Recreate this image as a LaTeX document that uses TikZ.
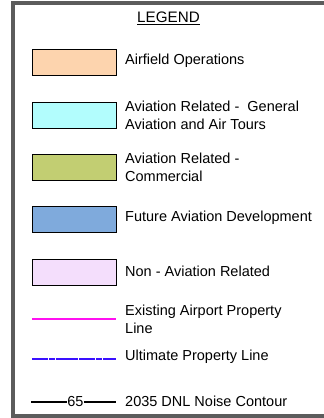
\documentclass[tikz,border=0pt]{standalone}
\usepackage{fontspec}
\setmainfont{Liberation Sans}
\definecolor{framegray}{HTML}{5C5C5C}
\definecolor{peach}{HTML}{FDD4AE}
\definecolor{aqua}{HTML}{B2FDFD}
\definecolor{olive}{HTML}{C2CE72}
\definecolor{skyblue}{HTML}{7FAADC}
\definecolor{lavender}{HTML}{F4DEFC}
\definecolor{propmagenta}{HTML}{FF10F0}
\definecolor{propblue}{HTML}{3A10FF}
\begin{document}
\begin{tikzpicture}[x=1pt,y=-1pt,
  swatch/.style={draw=black,line width=0.8pt,minimum width=84pt,minimum height=26pt,inner sep=0pt},
  label/.style={anchor=west,align=left,inner sep=0pt,font=\fontsize{14.5}{18}\selectfont},
  legline/.style={line width=2pt}]
\useasboundingbox (0,0) rectangle (324,418);
% frame
\draw[framegray,line width=4pt] (330,3) -- (13,3) -- (13,416) -- (330,416);
% title
\node[inner sep=0pt,font=\fontsize{15.2}{17}\selectfont] (title) at (168.5,18) {\underline{LEGEND}};
% colour swatches
\node[swatch,fill=peach]    (s1) at (74,62)  {};
\node[swatch,fill=aqua]     (s2) at (74,115) {};
\node[swatch,fill=olive]    (s3) at (74,167.5) {};
\node[swatch,fill=skyblue]  (s4) at (74,219.5) {};
\node[swatch,fill=lavender] (s5) at (74,272) {};
\node[label] (t1) at (125,61)  {Airfield Operations};
\node[label] (t2) at (125,115) {Aviation Related -\ \ General\\Aviation and Air Tours};
\node[label] (t3) at (125,167) {Aviation Related -\\Commercial};
\node[label] (t4) at (125,218) {Future Aviation Development};
\node[label] (t5) at (125,271) {Non - Aviation Related};
% line symbols
\coordinate (m1) at (32,319);  \coordinate (m2) at (116,319);
\draw[legline,propmagenta] (m1) -- (m2);
\node[label] (t6) at (125,319) {Existing Airport Property\\Line};
\coordinate (b1) at (32,358.5); \coordinate (b2) at (116,358.5);
\draw[legline,propblue,dash pattern=on 16pt off 0.8pt on 6pt off 0.8pt] (b1) -- (b2);
\node[label] (t7) at (125,357) {Ultimate Property Line};
\coordinate (k1) at (31,401.5); \coordinate (k2) at (116,401.5);
\node[inner sep=0.5pt,font=\fontsize{14.5}{16}\selectfont] (n65) at (75.5,401.5) {65};
\draw[legline,black] (k1) -- (n65.west);
\draw[legline,black] (n65.east) -- (k2);
\node[label] (t8) at (125,401) {2035 DNL Noise Contour};
\end{tikzpicture}
\end{document}
